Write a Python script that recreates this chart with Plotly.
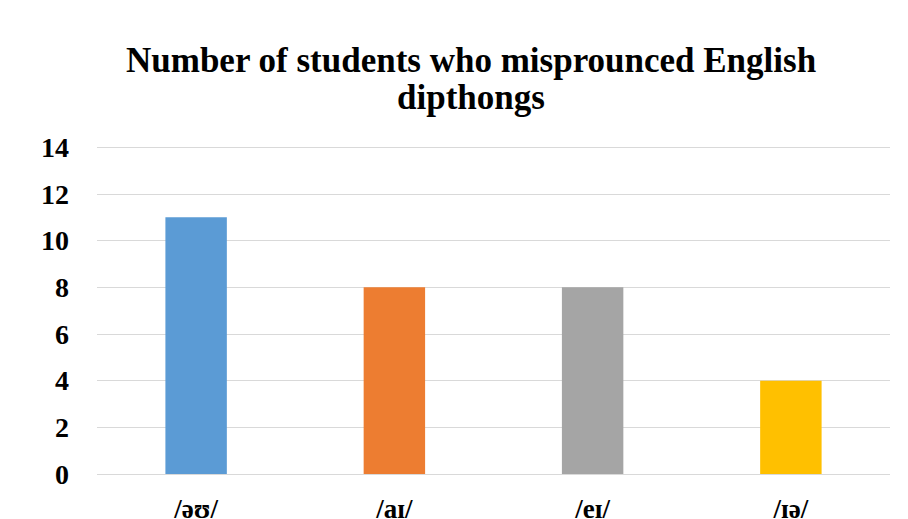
import plotly.graph_objects as go

categories = ["/əʊ/", "/aɪ/", "/eɪ/", "/ɪə/"]
values = [11, 8, 8, 4]
colors = ["#5B9BD5", "#ED7D31", "#A5A5A5", "#FFC000"]
y_ticks = [0, 2, 4, 6, 8, 10, 12, 14]
title_lines = ["Number of students who misprounced English", "dipthongs"]

FONT = "Liberation Serif"
TOP, BOTTOM = 145, 474
H = BOTTOM - TOP


def py(pix):
    return (BOTTOM - pix) / H


fig = go.Figure(go.Bar(x=categories, y=values, marker=dict(color=colors, line=dict(width=0)), width=0.31))

fig.update_layout(
    width=908, height=519,
    margin=dict(l=97, r=18, t=TOP, b=519 - BOTTOM, autoexpand=False),
    paper_bgcolor="white", plot_bgcolor="white",
    showlegend=False,
)
for line, bottom_px in zip(title_lines, [82, 119]):
    fig.add_annotation(text="<b>" + line + "</b>", xref="paper", yref="paper",
                       x=(471 - 97) / (890 - 97), y=py(bottom_px), xanchor="center", yanchor="bottom",
                       showarrow=False, font=dict(family=FONT, size=35, color="black"))
fig.update_yaxes(range=[0, 14.1], tickvals=y_ticks, showgrid=True, gridcolor="#D9D9D9", gridwidth=1,
                 zeroline=False, showline=False, ticks="", ticklabelstandoff=27,
                 tickfont=dict(family=FONT, size=28, color="black", weight="bold"), automargin=False)
fig.update_xaxes(showgrid=False, showline=True, linecolor="#D9D9D9", linewidth=1, ticks="",
                 ticklabelstandoff=11, tickfont=dict(family=FONT, size=27, color="black", weight="bold"),
                 automargin=False)

fig.write_html("out.html")
